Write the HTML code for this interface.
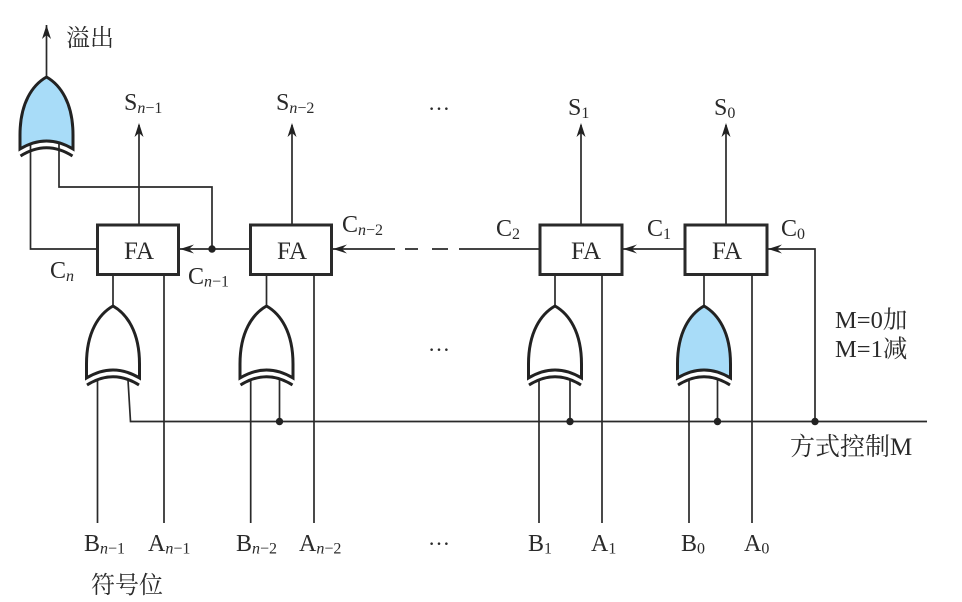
<!DOCTYPE html>
<html><head><meta charset="utf-8">
<style>
html,body{margin:0;padding:0;background:#fff}
svg{display:block}
text{font-family:"Liberation Serif","Noto Serif CJK SC",serif;fill:#2a2a2a;font-size:24px}
.s{font-size:16px}
.i{font-style:italic}
.w{stroke:#2a2a2a;stroke-width:1.7;fill:none}
.b{stroke:#2a2a2a;stroke-width:3;fill:#fff}
.g{stroke:#222;stroke-width:3;fill:#fff;stroke-linejoin:miter}
.a{fill:#222;stroke:none}
.f{font-size:25px;text-anchor:middle}
</style></head>
<body>
<svg xmlns="http://www.w3.org/2000/svg" width="962" height="602" viewBox="0 0 962 602">
<defs>
<path id="arc" d="M-26,79 Q0,62.5 26,79" fill="none" stroke="#222" stroke-width="3"/>
<path id="body" d="M0,0 C-14,8 -26.5,26 -26.5,58 L-26.5,72 Q0,56 26.5,72 L26.5,58 C26.5,26 14,8 0,0Z"/>
<path id="up" class="a" d="M0,0 L4.5,14 L0,10 L-4.5,14Z"/>
<path id="left" class="a" d="M0,0 L14,-4.5 L9,0 L14,4.5Z"/>
</defs>

<!-- wires -->
<g class="w">
<path d="M46.5,25V77"/>
<path d="M139,125V225M292,125V225M581,125V225M726,125V225"/>
<path d="M30.5,143V249H97"/>
<path d="M59,143V187H212V249"/>
<path d="M179,249H250"/>
<path d="M332,249H395M405,249H418M432,249H448M459,249H540"/>
<path d="M622,249H685"/>
<path d="M767,249H815V421.5"/>
<path d="M128,380L130.5,421.5H927"/>
<path d="M113,275V306M266.5,275V306M555,275V306M704,275V306"/>
<path d="M97.5,380V523M164,275V523"/>
<path d="M250.7,380V523M314,275V523M279.5,380V421.5"/>
<path d="M539,380V523M602,275V523M570,380V421.5"/>
<path d="M689,380V523M752,275V523M717.5,380V421.5"/>
</g>

<!-- gates -->
<g transform="translate(46.5,77)"><use href="#body" class="g" style="fill:#a8dcf8"/><use href="#arc"/></g>
<g transform="translate(113,306)"><use href="#body" class="g"/><use href="#arc"/></g>
<g transform="translate(266.5,306)"><use href="#body" class="g"/><use href="#arc"/></g>
<g transform="translate(555,306)"><use href="#body" class="g"/><use href="#arc"/></g>
<g transform="translate(704,306)"><use href="#body" class="g" style="fill:#a8dcf8"/><use href="#arc"/></g>

<!-- FA boxes -->
<rect class="b" x="97.5" y="225" width="81" height="49.5"/>
<rect class="b" x="250.5" y="225" width="81" height="49.5"/>
<rect class="b" x="540" y="225" width="82" height="49.5"/>
<rect class="b" x="685" y="225" width="82" height="49.5"/>
<text class="f" x="139" y="259">FA</text>
<text class="f" x="292" y="259">FA</text>
<text class="f" x="586" y="259">FA</text>
<text class="f" x="727" y="259">FA</text>

<!-- arrowheads -->
<use href="#up" x="46.5" y="25"/>
<use href="#up" x="139" y="123"/>
<use href="#up" x="292" y="123"/>
<use href="#up" x="581" y="123"/>
<use href="#up" x="726" y="123"/>
<use href="#left" x="180" y="249"/>
<use href="#left" x="333" y="249"/>
<use href="#left" x="623" y="249"/>
<use href="#left" x="768" y="249"/>

<!-- dots -->
<g class="a">
<circle cx="212" cy="249" r="3.7"/>
<circle cx="279.5" cy="421.5" r="3.7"/>
<circle cx="570" cy="421.5" r="3.7"/>
<circle cx="717.5" cy="421.5" r="3.7"/>
<circle cx="815" cy="421.5" r="3.7"/>
</g>

<!-- labels -->
<text x="66" y="46">溢出</text>
<text x="124" y="110">S<tspan class="s i" dy="3">n</tspan><tspan class="s" dy="0">−1</tspan></text>
<text x="276" y="110">S<tspan class="s i" dy="3">n</tspan><tspan class="s">−2</tspan></text>
<text x="428" y="110" style="font-size:22px">…</text>
<text x="568" y="115">S<tspan class="s" dy="3">1</tspan></text>
<text x="714" y="115">S<tspan class="s" dy="3">0</tspan></text>
<text x="342" y="232">C<tspan class="s i" dy="3">n</tspan><tspan class="s">−2</tspan></text>
<text x="496" y="236">C<tspan class="s" dy="3">2</tspan></text>
<text x="647" y="236">C<tspan class="s" dy="3">1</tspan></text>
<text x="781" y="236">C<tspan class="s" dy="3">0</tspan></text>
<text x="50" y="278">C<tspan class="s i" dy="3">n</tspan></text>
<text x="188" y="284">C<tspan class="s i" dy="2.5">n</tspan><tspan class="s">−1</tspan></text>
<text x="428" y="351" style="font-size:22px">…</text>
<text x="835" y="328" style="font-size:24.5px">M=0加</text>
<text x="835" y="357" style="font-size:24.5px">M=1减</text>
<text x="790" y="455" style="font-size:25px">方式控制M</text>
<text x="84" y="551">B<tspan class="s i" dy="2.5">n</tspan><tspan class="s">−1</tspan></text>
<text x="148" y="551">A<tspan class="s i" dy="2.5">n</tspan><tspan class="s">−1</tspan></text>
<text x="236" y="551">B<tspan class="s i" dy="2.5">n</tspan><tspan class="s">−2</tspan></text>
<text x="299" y="551">A<tspan class="s i" dy="2.5">n</tspan><tspan class="s">−2</tspan></text>
<text x="428" y="545" style="font-size:22px">…</text>
<text x="528" y="551">B<tspan class="s" dy="2.5">1</tspan></text>
<text x="591" y="551">A<tspan class="s" dy="2.5">1</tspan></text>
<text x="681" y="551">B<tspan class="s" dy="2.5">0</tspan></text>
<text x="744" y="551">A<tspan class="s" dy="2.5">0</tspan></text>
<text x="91" y="593">符号位</text>
</svg>
</body></html>
